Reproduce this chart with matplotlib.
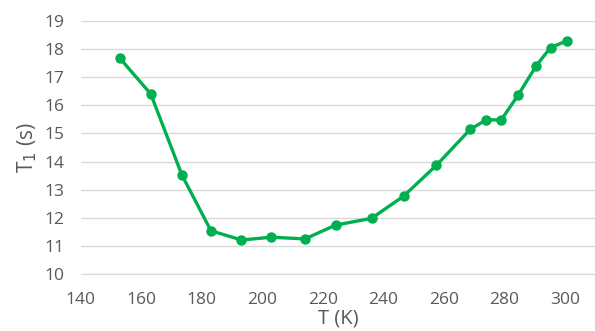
import matplotlib
matplotlib.use('Agg')
import matplotlib.pyplot as plt

temps = [152.9, 163.1, 173.4, 183.0, 193.1, 202.9, 214.1, 224.2, 236.1, 246.7,
         257.5, 268.8, 274.0, 279.0, 284.7, 290.6, 295.3, 300.7]
t1 = [17.67, 16.40, 13.52, 11.54, 11.21, 11.31, 11.25, 11.74, 11.98, 12.77,
      13.86, 15.15, 15.48, 15.48, 16.38, 17.41, 18.05, 18.29]
xticks = [140, 160, 180, 200, 220, 240, 260, 280, 300]
yticks = list(range(10, 20))

plt.rcParams['font.family'] = ['Open Sans', 'DejaVu Sans']
green = '#00B050'
grey_txt = '#595959'

fig = plt.figure(figsize=(5.95, 3.31), dpi=100)
ax = fig.add_axes([0.136, 0.172, 0.864, 0.765])

ax.plot(temps, t1, color=green, lw=2.4, marker='o', ms=6.5, zorder=3)

ax.set_xlim(140, 310)
ax.set_ylim(10, 19)
ax.set_xticks(xticks)
ax.set_yticks(yticks)
ax.grid(axis='y', color='#D9D9D9', lw=1)
ax.set_axisbelow(True)
for s in ['top', 'right', 'left']:
    ax.spines[s].set_visible(False)
ax.spines['bottom'].set_color('#D9D9D9')
ax.tick_params(length=0, labelsize=12.5, colors=grey_txt)
ax.tick_params(axis='x', pad=13)
ax.tick_params(axis='y', pad=12)
ax.set_xlabel('T (K)', fontsize=14.5, color=grey_txt, labelpad=0)
ax.set_ylabel('T$_1$ (s)', fontsize=15, color=grey_txt, labelpad=4)

fig.savefig('out.png', dpi=100)
